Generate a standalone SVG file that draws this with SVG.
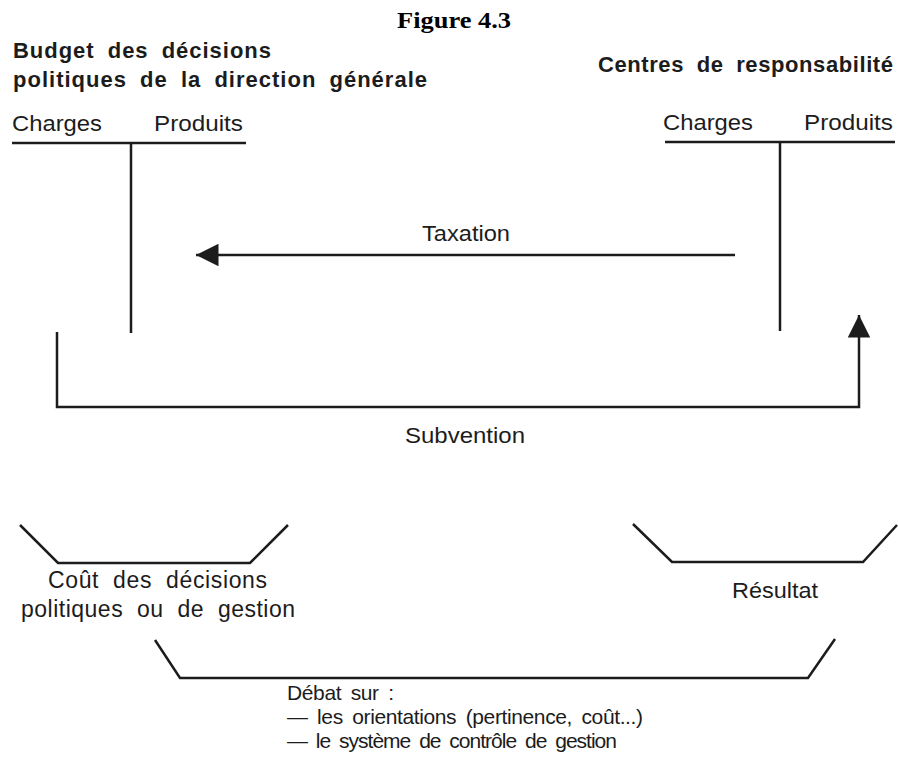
<svg xmlns="http://www.w3.org/2000/svg" width="898" height="762" viewBox="0 0 898 762">
<defs>
<style>
.t{font-family:"Liberation Sans",Arial,sans-serif;font-size:22px;fill:#1c1c1c}
.w{font-family:"Liberation Sans",Arial,sans-serif;font-size:23px;fill:#1c1c1c;word-spacing:7px}
.d{font-family:"Liberation Sans",Arial,sans-serif;font-size:21px;fill:#1c1c1c;word-spacing:4px}
.b{font-family:"Liberation Sans",Arial,sans-serif;font-size:22px;font-weight:bold;fill:#1c1c1c;word-spacing:6px}
.ttl{font-family:"Liberation Serif","Times New Roman",serif;font-size:23px;font-weight:bold;fill:#000}
.ln{fill:none;stroke:#1c1c1c;stroke-width:2.5;stroke-linejoin:miter}
</style>
<marker id="ah" viewBox="0 0 10 10" refX="10" refY="5" markerWidth="9" markerHeight="9" markerUnits="strokeWidth" orient="auto">
<path d="M0,0 L10,5 L0,10 Z" fill="#1c1c1c"/>
</marker>
</defs>
<rect width="898" height="762" fill="#fff"/>
<text class="ttl" x="397" y="28" textLength="114" lengthAdjust="spacingAndGlyphs">Figure 4.3</text>

<g id="budget">
<text class="b" x="13" y="58" textLength="258" lengthAdjust="spacing">Budget des décisions</text>
<text class="b" x="13" y="87" textLength="414" lengthAdjust="spacing">politiques de la direction générale</text>
<text class="t" x="12" y="131" textLength="90" lengthAdjust="spacingAndGlyphs">Charges</text>
<text class="t" x="154" y="131" textLength="89" lengthAdjust="spacingAndGlyphs">Produits</text>
<path class="ln" d="M12,143 H246 M131,143 V333"/>
</g>

<g id="centres">
<text class="b" x="598" y="72" textLength="295" lengthAdjust="spacing">Centres de responsabilité</text>
<text class="t" x="663" y="130" textLength="90" lengthAdjust="spacingAndGlyphs">Charges</text>
<text class="t" x="804" y="130" textLength="89" lengthAdjust="spacingAndGlyphs">Produits</text>
<path class="ln" d="M665,142 H895 M780,142 V331"/>
</g>

<g id="connectors">
<path class="ln" d="M735,255 H196" marker-end="url(#ah)"/>
<text class="t" x="422" y="241" textLength="88" lengthAdjust="spacingAndGlyphs">Taxation</text>
<path class="ln" d="M57,332 V407 H859 V315" marker-end="url(#ah)"/>
<text class="t" x="405" y="443" textLength="120" lengthAdjust="spacingAndGlyphs">Subvention</text>
</g>

<g id="cout">
<path class="ln" d="M20,525 L58,563 H250 L288,525"/>
<text class="w" x="48" y="588" textLength="219" lengthAdjust="spacing">Coût des décisions</text>
<text class="w" x="21" y="617" textLength="274" lengthAdjust="spacing">politiques ou de gestion</text>
</g>

<g id="resultat">
<path class="ln" d="M633,524 L672,562 H863 L897,525"/>
<text class="t" x="732" y="598" textLength="86" lengthAdjust="spacingAndGlyphs">Résultat</text>
</g>

<g id="debat">
<path class="ln" d="M155,640 L180,678 H808 L835,639"/>
<text class="d" x="287" y="700" textLength="107" lengthAdjust="spacing">Débat sur :</text>
<text class="d" x="287" y="724" textLength="356" lengthAdjust="spacing">— les orientations (pertinence, coût...)</text>
<text class="d" x="287" y="748" textLength="330" lengthAdjust="spacing">— le système de contrôle de gestion</text>
</g>
</svg>
